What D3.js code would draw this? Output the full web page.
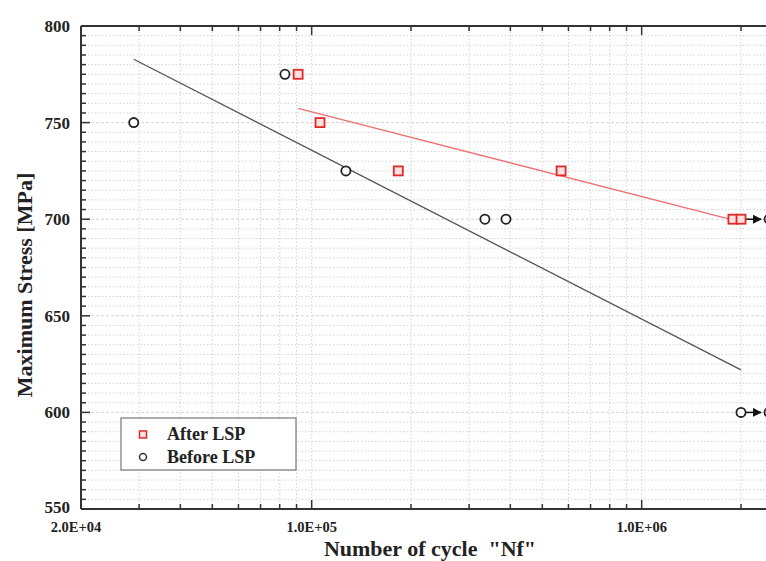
<!DOCTYPE html>
<html>
<head>
<meta charset="utf-8">
<script src="https://cdn.jsdelivr.net/npm/d3@7"></script>
<style>
  body { margin: 0; background: #fff; }
  text { font-family: "Liberation Serif", "Times New Roman", serif; font-weight: bold; fill: #222; }
</style>
</head>
<body>
<svg width="766" height="561"></svg>
<script>
// S-N data
var beforeCycles = [2.89e4, 8.3e4, 1.27e5, 3.35e5, 3.88e5, 2.0e6];
var beforeStress = [750, 775, 725, 700, 700, 600];
var afterCycles = [9.1e4, 1.06e5, 1.83e5, 5.7e5, 1.89e6, 2.0e6];
var afterStress = [775, 750, 725, 725, 700, 700];
// run-outs (arrows)
var runoutCycles = [2.0e6, 2.0e6];
var runoutStress = [700, 600];
// fitted lines (end points)
var beforeFitCycles = [2.89e4, 2.0e6];
var beforeFitStress = [782.8, 622];
var afterFitCycles = [9.1e4, 1.9e6];
var afterFitStress = [757.4, 699.5];
var yTicks = [550, 600, 650, 700, 750, 800];
var xTickLabels = ["2.0E+04", "1.0E+05", "1.0E+06"];
var xTickValues = [2e4, 1e5, 1e6];

var margin = {top: 26, left: 81},
    plotH = 483;

var svg = d3.select("svg");

var x = d3.scaleLog().domain([2e4, 3e6]).range([margin.left, margin.left + 330 * Math.log10(3e6 / 2e4)]);
var y = d3.scaleLinear().domain([550, 800]).range([margin.top + plotH, margin.top]);

var xRight = 800; // plot runs past the cropped edge

// minor log values
var logMinor = [];
[1e4, 1e5, 1e6].forEach(function(dec) {
  for (var k = 1; k < 10; k++) {
    var v = dec * k;
    if (v >= 2e4 && v <= 3e6) logMinor.push(v);
  }
});
var yMinor = d3.range(550, 801, 5);

// grid
var grid = svg.append("g").attr("class", "grid");
grid.selectAll("line.h").data(yMinor).enter().append("line")
    .attr("x1", margin.left).attr("x2", xRight)
    .attr("y1", d => y(d)).attr("y2", d => y(d))
    .attr("stroke", "#c8c8c8").attr("stroke-width", 0.8)
    .attr("stroke-dasharray", d => d % 50 === 0 ? "3,2" : "1.5,2");
grid.selectAll("line.v").data(logMinor).enter().append("line")
    .attr("x1", d => x(d)).attr("x2", d => x(d))
    .attr("y1", y(550)).attr("y2", y(800))
    .attr("stroke", "#c8c8c8").attr("stroke-width", 0.8)
    .attr("stroke-dasharray", "1.5,2");

// axes
var axisColor = "#333";
var ax = svg.append("g");
ax.append("line").attr("x1", margin.left).attr("x2", xRight).attr("y1", y(550)).attr("y2", y(550))
  .attr("stroke", axisColor).attr("stroke-width", 2);
ax.append("line").attr("x1", margin.left).attr("x2", xRight).attr("y1", y(800)).attr("y2", y(800))
  .attr("stroke", axisColor).attr("stroke-width", 2);
ax.append("line").attr("x1", margin.left).attr("x2", margin.left).attr("y1", y(550)).attr("y2", y(800))
  .attr("stroke", axisColor).attr("stroke-width", 2);

// x ticks (bottom and top, pointing inward)
[y(550), y(800)].forEach(function(yy, i) {
  var dir = i === 0 ? -1 : 1;
  ax.selectAll(null).data(logMinor).enter().append("line")
    .attr("x1", d => x(d)).attr("x2", d => x(d))
    .attr("y1", yy).attr("y2", d => yy + dir * (xTickValues.indexOf(d) >= 0 ? 9 : 5))
    .attr("stroke", axisColor).attr("stroke-width", 1.5);
});
// y ticks
ax.selectAll(null).data(yMinor).enter().append("line")
  .attr("x1", margin.left).attr("x2", d => margin.left + (d % 50 === 0 ? 9 : 5))
  .attr("y1", d => y(d)).attr("y2", d => y(d))
  .attr("stroke", axisColor).attr("stroke-width", 1.5);

// tick labels
svg.selectAll("text.yl").data(yTicks).enter().append("text")
  .attr("x", margin.left - 11).attr("y", d => y(d) + (d === 550 ? 4 : 6))
  .attr("text-anchor", "end").style("font-size", "17px")
  .text(d => d);
svg.selectAll("text.xl").data(xTickValues).enter().append("text")
  .attr("x", (d, i) => x(d) + (i === 0 ? -5 : 0)).attr("y", y(550) + 23)
  .attr("text-anchor", "middle").style("font-size", "14.5px")
  .text((d, i) => xTickLabels[i]);

// axis titles
svg.append("text").attr("x", 430).attr("y", 556).attr("text-anchor", "middle")
  .style("font-size", "22px").attr("xml:space", "preserve")
  .text('Number of cycle  "Nf"');
svg.append("text").attr("transform", "translate(32," + 285 + ") rotate(-90)")
  .attr("text-anchor", "middle").style("font-size", "22px")
  .text("Maximum Stress [MPa]");

// fit lines
var line = d3.line().x(d => x(d[0])).y(d => y(d[1]));
svg.append("path").datum(d3.zip(beforeFitCycles, beforeFitStress))
  .attr("d", line).attr("fill", "none").attr("stroke", "#555").attr("stroke-width", 1.3);
svg.append("path").datum(d3.zip(afterFitCycles, afterFitStress))
  .attr("d", line).attr("fill", "none").attr("stroke", "#f07070").attr("stroke-width", 1.3);

// run-out arrows
var defs = svg.append("defs");
defs.append("marker").attr("id", "arrow").attr("viewBox", "0 0 10 10")
  .attr("refX", 9).attr("refY", 5).attr("markerWidth", 9).attr("markerHeight", 9)
  .attr("markerUnits", "userSpaceOnUse").attr("orient", "auto")
  .append("path").attr("d", "M0,0L10,5L0,10Z").attr("fill", "#111");
svg.selectAll("line.ro").data(d3.zip(runoutCycles, runoutStress)).enter().append("line")
  .attr("x1", d => x(d[0]) + 5).attr("x2", d => x(d[0]) + 20)
  .attr("y1", d => y(d[1])).attr("y2", d => y(d[1]))
  .attr("stroke", "#111").attr("stroke-width", 1.5).attr("marker-end", "url(#arrow)");
// partly cut symbols at right edge
svg.selectAll("circle.ro").data(runoutStress).enter().append("circle")
  .attr("cx", 769).attr("cy", d => y(d)).attr("r", 4.5)
  .attr("fill", "none").attr("stroke", "#222").attr("stroke-width", 1.8);

// markers
svg.selectAll("circle.before").data(d3.zip(beforeCycles, beforeStress)).enter().append("circle")
  .attr("cx", d => x(d[0])).attr("cy", d => y(d[1])).attr("r", 4.6)
  .attr("fill", "#fff").attr("stroke", "#222").attr("stroke-width", 1.8);
svg.selectAll("rect.after").data(d3.zip(afterCycles, afterStress)).enter().append("rect")
  .attr("x", d => x(d[0]) - 4.5).attr("y", d => y(d[1]) - 4.5)
  .attr("width", 9).attr("height", 9)
  .attr("fill", "#fbe0e0").attr("stroke", "#e02828").attr("stroke-width", 1.8);

// legend
var lg = svg.append("g").attr("transform", "translate(121,418)");
lg.append("rect").attr("width", 175).attr("height", 52)
  .attr("fill", "#fff").attr("stroke", "#777").attr("stroke-width", 1.2);
lg.append("rect").attr("x", 18.5).attr("y", 13).attr("width", 7).attr("height", 7)
  .attr("fill", "#fbe0e0").attr("stroke", "#e02828").attr("stroke-width", 1.5);
lg.append("circle").attr("cx", 22).attr("cy", 39).attr("r", 3.5)
  .attr("fill", "#fff").attr("stroke", "#334").attr("stroke-width", 1.5);
lg.append("text").attr("x", 46).attr("y", 22).style("font-size", "18px").text("After LSP");
lg.append("text").attr("x", 46).attr("y", 45).style("font-size", "18px").text("Before LSP");
</script>
</body>
</html>
